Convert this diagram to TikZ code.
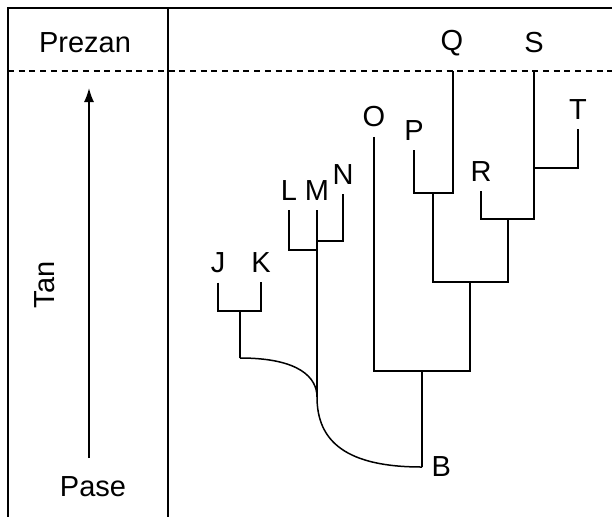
\documentclass[tikz,border=0pt]{standalone}
\usepackage{fontspec}
\setmainfont{Liberation Sans}
\usetikzlibrary{arrows.meta,calc}

\begin{document}
\begin{tikzpicture}[x=1pt, y=-1pt, outer sep=0pt, inner sep=9.5pt,
    >={Latex[length=14pt,width=10pt]},
    font=\fontsize{29}{34}\selectfont,
    frame/.style={line width=1.8pt},
    branch/.style={line width=1.5pt}]

\useasboundingbox (0,0) rectangle (612,517);

% table frame
\draw [frame] (612,8) -- (8,8) -- (8,517);
\draw [frame] (168,8) -- (168,517);
\draw [line width=1.6pt, dash pattern=on 6pt off 4.7pt] (8,71) -- (612,71);

\node at (85, 43) (PREZAN) {Prezan};
\node at (93, 487) (PASE) {Pase};
\node [rotate=90] at (45, 285) (TAN) {Tan};
\coordinate (ARR_LOW) at (89, 458);
\coordinate (ARR_HIGH) at (89, 88);
    \draw [->, line width=1.6pt] (ARR_LOW) -- (ARR_HIGH);

% leaves
\node at (452, 43) (Q) {Q};
\node at (534, 43) (S) {S};
\node at (218, 263) (J) {J};
\node at (261, 263) (K) {K};
\node at (289, 191) (L) {L};
\node at (317, 191) (M) {M};
\node at (343, 175) (N) {N};
\node at (374, 117) (O) {O};
\node at (414, 131) (P) {P};
\node at (481, 172) (R) {R};
\node at (578, 110) (T) {T};
\node [anchor=west] at (422, 467) (B) {B};

% joins
\coordinate (JK) at (240, 311);
\coordinate (JK_LOW) at (240, 358);
\coordinate (LM) at (317, 250);
\coordinate (MN) at (317, 241);
\coordinate (M_LOW) at (317, 397);
\coordinate (Q_TOP) at (453, 71);
\coordinate (S_TOP) at (534, 71);
\coordinate (PQ) at (433, 193);
\coordinate (RS) at (508, 219);
\coordinate (ST) at (534, 168);
\coordinate (PQRS) at (470, 282);
\coordinate (OB) at (422, 371);

    \draw [branch] (J.south) |- (JK) -| (K.south);
    \draw [branch] (JK) -- (JK_LOW);
    \draw [branch] (L.south) |- (LM);
    \draw [branch] (N.south) |- (MN);
    \draw [branch] (M.south) -- (M_LOW);
    \draw [branch] (JK_LOW) .. controls (300, 358) and (317, 378) .. (M_LOW)
        .. controls (317, 442) and (347, 467) .. (B.west);
    \draw [branch] (P.south) |- (PQ) -| (Q_TOP);
    \draw [branch] (R.south) |- (RS) -| (S_TOP);
    \draw [branch] (ST) -| (T.south);
    \draw [branch] (PQ) |- (PQRS) -| (RS);
    \draw [branch] (O.south) |- (OB) -| (PQRS);
    \draw [branch] (OB) -- (B.west);
\end{tikzpicture}
\end{document}
